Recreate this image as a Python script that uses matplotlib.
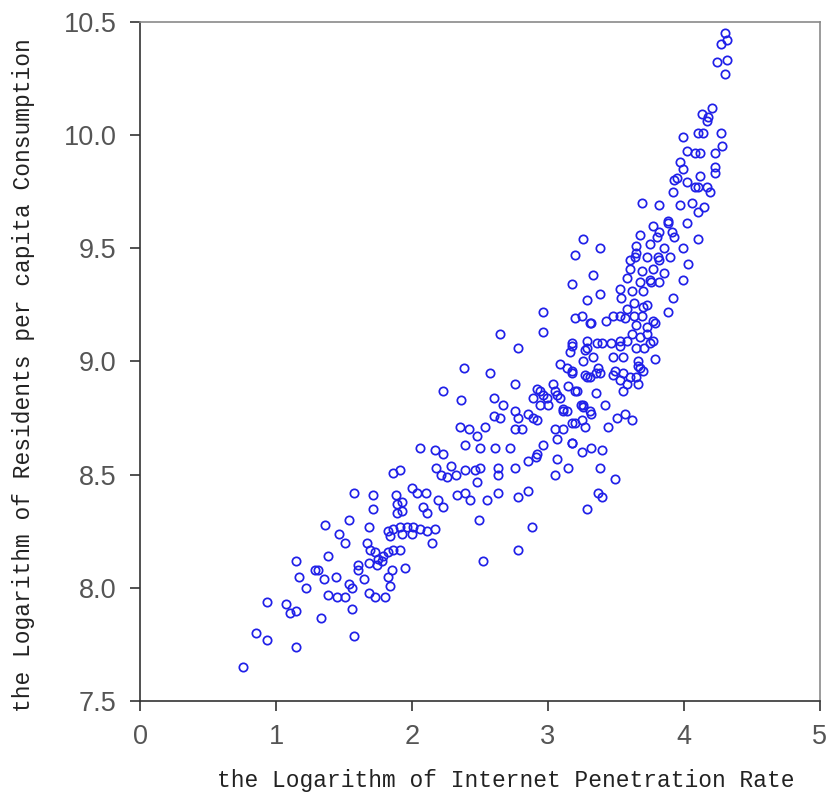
import matplotlib
matplotlib.use('Agg')
import matplotlib.pyplot as plt

# points (x: log internet penetration, y: log consumption)
pts_low = [
    (0.76, 7.65), (0.85, 7.80), (0.93, 7.77), (1.15, 7.74), (1.57, 7.79),
    (0.93, 7.94), (1.07, 7.93), (1.10, 7.89), (1.15, 7.90), (1.33, 7.87),
    (1.15, 8.12), (1.17, 8.05), (1.22, 8.00), (1.29, 8.08), (1.31, 8.08),
    (1.35, 8.04), (1.38, 7.97), (1.45, 7.96), (1.51, 7.96), (1.56, 7.91),
    (1.44, 8.05), (1.38, 8.14), (1.36, 8.28), (1.46, 8.24), (1.51, 8.20),
    (1.54, 8.30), (1.57, 8.42), (1.71, 8.41), (1.71, 8.35), (1.68, 8.27),
    (1.54, 8.02), (1.56, 8.00), (1.60, 8.10), (1.60, 8.08), (1.65, 8.04),
    (1.68, 7.98), (1.73, 7.96), (1.80, 7.96), (1.82, 8.05), (1.84, 8.01),
    (1.85, 8.08), (1.95, 8.09), (1.67, 8.20), (1.69, 8.17), (1.73, 8.16),
    (1.75, 8.13), (1.79, 8.14), (1.82, 8.16), (1.86, 8.17), (1.91, 8.17),
    (1.68, 8.11), (1.74, 8.10), (1.78, 8.12), (1.82, 8.25), (1.86, 8.26),
    (1.91, 8.27), (1.96, 8.27), (2.01, 8.27), (2.06, 8.26), (2.11, 8.25),
    (1.84, 8.23), (1.93, 8.24), (2.00, 8.24), (1.88, 8.41), (1.89, 8.37),
    (1.93, 8.38), (1.89, 8.33), (1.93, 8.34), (2.00, 8.44), (2.04, 8.42),
    (2.10, 8.42), (2.08, 8.36), (2.11, 8.33), (1.86, 8.51), (1.91, 8.52),
    (2.19, 8.39), (2.23, 8.36), (2.17, 8.26), (2.15, 8.20),
]

pts_mid = [
    (2.65, 9.12), (2.96, 9.13), (2.78, 9.06), (2.38, 8.97), (2.57, 8.95),
    (2.76, 8.90), (2.23, 8.87), (2.36, 8.83), (2.60, 8.84), (2.67, 8.81),
    (2.60, 8.76), (2.65, 8.75), (2.54, 8.71), (2.35, 8.71), (2.42, 8.70),
    (2.48, 8.67), (2.39, 8.63), (2.50, 8.62), (2.61, 8.62), (2.72, 8.62),
    (2.06, 8.62), (2.17, 8.61), (2.23, 8.59), (2.18, 8.53), (2.29, 8.54),
    (2.21, 8.50), (2.26, 8.49), (2.32, 8.50), (2.39, 8.52), (2.46, 8.52),
    (2.50, 8.53), (2.48, 8.47), (2.63, 8.53), (2.63, 8.50), (2.76, 8.53),
    (2.85, 8.56), (2.91, 8.58), (2.96, 8.63), (2.33, 8.41), (2.39, 8.42),
    (2.43, 8.39), (2.55, 8.39), (2.63, 8.42), (2.78, 8.40), (2.85, 8.43),
    (2.49, 8.30), (2.88, 8.27), (2.78, 8.17), (2.52, 8.12), (3.05, 8.50),
    (3.15, 8.53), (3.07, 8.57), (3.29, 8.35), (3.37, 8.42), (2.76, 8.78),
    (2.78, 8.75), (2.85, 8.77), (2.89, 8.75), (2.92, 8.74), (2.76, 8.70),
    (2.81, 8.70), (2.92, 8.88), (2.96, 8.85), (2.94, 8.81), (3.00, 8.81),
    (3.04, 8.90), (3.07, 8.85), (3.11, 8.78), (3.05, 8.70), (3.07, 8.66),
    (3.11, 8.70), (3.18, 8.73), (3.25, 8.74), (3.18, 8.64), (3.25, 8.60),
    (3.32, 8.62), (3.15, 8.89), (3.20, 8.87), (3.26, 8.81), (3.31, 8.78),
    (3.09, 8.99), (3.14, 8.97), (3.18, 8.96), (3.29, 8.93), (3.35, 8.95),
    (3.16, 9.04), (3.18, 9.08), (3.27, 9.05), (3.29, 9.09), (3.33, 9.02),
    (3.32, 9.17), (2.96, 9.22), (3.26, 9.00), (3.48, 8.94), (3.65, 8.93),
    (3.70, 8.96), (3.66, 8.98), (2.94, 8.87), (2.99, 8.84), (3.05, 8.87),
    (3.09, 8.84), (2.89, 8.84), (3.11, 8.79), (3.24, 8.81), (2.92, 8.59),
]

pts_upper = [
    (3.26, 9.54), (3.20, 9.47), (3.38, 9.50), (3.33, 9.38), (3.18, 9.34),
    (3.38, 9.30), (3.29, 9.27), (3.20, 9.19), (3.25, 9.20), (3.31, 9.17),
    (3.43, 9.18), (3.48, 9.20), (3.53, 9.20), (3.57, 9.19), (3.18, 9.07),
    (3.29, 9.06), (3.36, 9.08), (3.40, 9.08), (3.46, 9.08), (3.53, 9.07),
    (3.58, 9.09), (3.62, 9.12), (3.68, 9.11), (3.73, 9.12), (3.77, 9.09),
    (3.65, 9.06), (3.71, 9.06), (3.79, 9.01), (3.68, 8.97), (3.18, 8.95),
    (3.27, 8.94), (3.31, 8.93), (3.37, 8.97), (3.38, 8.95), (3.48, 9.02),
    (3.49, 8.96), (3.55, 8.95), (3.60, 8.93), (3.53, 8.92), (3.58, 8.90),
    (3.66, 8.90), (3.55, 8.87), (3.21, 8.87), (3.35, 8.86), (3.14, 8.78),
    (3.26, 8.80), (3.32, 8.77), (3.42, 8.81), (3.51, 8.75), (3.57, 8.77),
    (3.62, 8.74), (3.20, 8.73), (3.27, 8.71), (3.44, 8.71), (3.18, 8.64),
    (3.40, 8.61), (3.38, 8.53), (3.49, 8.48), (3.40, 8.40),
    (3.77, 9.60), (3.88, 9.61), (4.02, 9.61), (3.68, 9.56), (3.82, 9.57),
    (3.93, 9.55), (3.65, 9.51), (3.75, 9.52), (3.85, 9.50), (3.99, 9.50),
    (3.64, 9.46), (3.73, 9.46), (3.81, 9.46), (3.90, 9.46), (4.03, 9.43),
    (3.60, 9.41), (3.69, 9.40), (3.77, 9.41), (3.85, 9.39), (3.58, 9.37),
    (3.68, 9.35), (3.76, 9.35), (3.82, 9.35), (3.99, 9.36), (3.53, 9.32),
    (3.62, 9.31), (3.70, 9.31), (3.92, 9.28), (3.88, 9.22), (3.54, 9.28),
    (3.63, 9.26), (3.73, 9.25), (3.58, 9.23), (3.69, 9.20), (3.77, 9.18),
    (3.73, 9.15), (3.65, 9.16), (4.10, 9.54),
    (3.95, 9.81), (4.02, 9.79), (4.12, 9.82), (4.23, 9.83), (3.92, 9.75),
    (4.08, 9.77), (4.17, 9.77), (3.69, 9.70), (3.82, 9.69), (3.97, 9.69),
    (4.06, 9.70), (4.15, 9.68), (4.10, 9.66), (3.88, 9.62), (3.80, 9.55),
    (3.91, 9.57), (3.79, 9.17), (3.70, 9.24), (3.63, 9.20), (3.75, 9.08),
    (3.66, 9.00), (3.55, 9.02), (3.53, 9.09), (3.60, 9.45), (3.65, 9.48),
    (3.82, 9.45), (3.75, 9.36),
]

pts_top = [
    (4.30, 10.45), (4.27, 10.40), (4.32, 10.42), (4.24, 10.32), (4.32, 10.33),
    (4.30, 10.27), (4.21, 10.12), (4.13, 10.09), (4.18, 10.08), (4.17, 10.06),
    (4.10, 10.01), (4.14, 10.01), (4.27, 10.01), (3.99, 9.99), (4.02, 9.93),
    (4.08, 9.92), (4.12, 9.92), (4.23, 9.92), (4.28, 9.95), (3.97, 9.88),
    (3.99, 9.85), (4.23, 9.86), (3.93, 9.80), (4.10, 9.77), (4.19, 9.75),
]

points = pts_low + pts_mid + pts_upper + pts_top
x_vals = [p[0] for p in points]
y_vals = [p[1] for p in points]

x_ticks = [0, 1, 2, 3, 4, 5]
y_ticks = [7.5, 8.0, 8.5, 9.0, 9.5, 10.0, 10.5]
x_label = 'the Logarithm of Internet Penetration Rate'
y_label = 'the Logarithm of Residents per capita Consumption'

fig = plt.figure(figsize=(8.29, 7.98), dpi=100)
ax = fig.add_axes([0.169, 0.121, 0.820, 0.852])

ax.plot(x_vals, y_vals, 'o', ls='none', ms=6, mfc='none',
        mec='#2020e8', mew=1.25)

ax.set_xlim(0, 5)
ax.set_ylim(7.5, 10.5)
ax.set_xticks(x_ticks)
ax.set_yticks(y_ticks)
ax.set_xticklabels([str(t) for t in x_ticks])
ax.set_yticklabels([f'{t:.1f}' for t in y_ticks])

for side in ['left', 'bottom', 'top', 'right']:
    ax.spines[side].set_color('#333333')
    ax.spines[side].set_linewidth(1.2)
ax.spines['top'].set_color('#8a8a8a')
ax.spines['right'].set_color('#8a8a8a')

ax.tick_params(direction='out', length=7, width=1.2, color='#333333',
               labelsize=19.5, labelcolor='#555555')
ax.tick_params(axis='x', pad=9)
ax.tick_params(axis='y', pad=10)
for lab in ax.get_xticklabels() + ax.get_yticklabels():
    lab.set_family('Liberation Sans')

ax.text(0.538, -0.116, x_label, transform=ax.transAxes, ha='center',
        va='center', family='Liberation Mono', fontsize=16.5, color='#222222')
ax.text(-0.172, 0.48, y_label, transform=ax.transAxes, ha='center',
        va='center', rotation=90, family='Liberation Mono', fontsize=16.5,
        color='#222222')

fig.savefig('out.png', dpi=100)
